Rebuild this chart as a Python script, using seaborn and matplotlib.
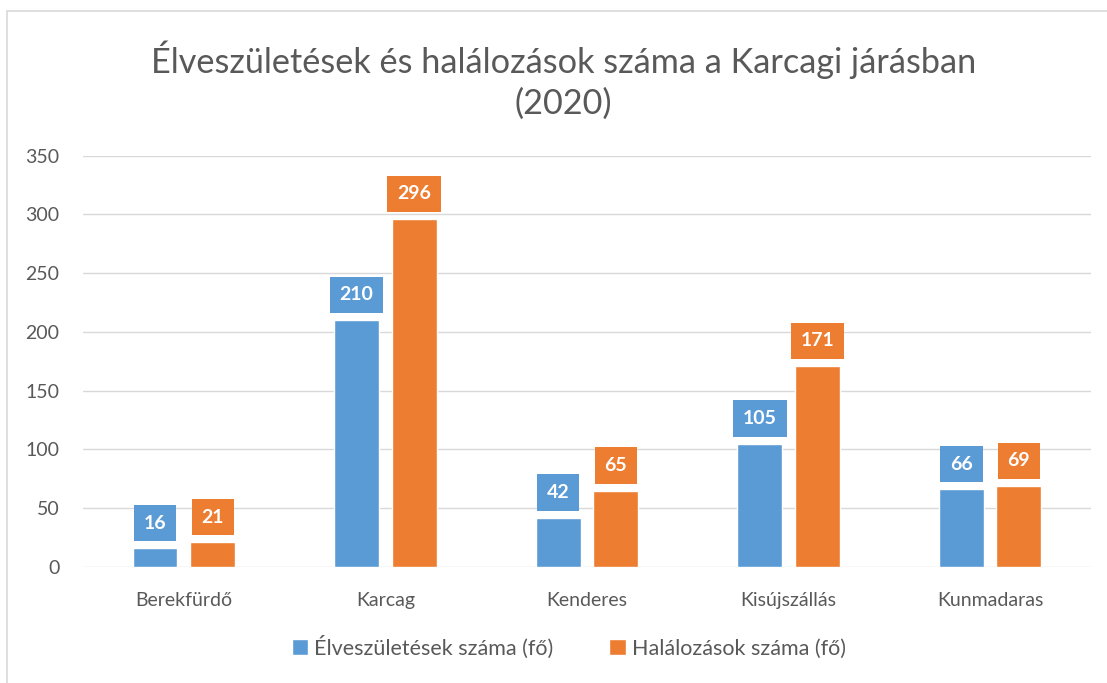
import pandas as pd
import seaborn as sns
import matplotlib.pyplot as plt
from matplotlib.patches import Rectangle

telepulesek = ['Berekfürdő', 'Karcag', 'Kenderes', 'Kisújszállás', 'Kunmadaras']
elveszuletesek = [16, 210, 42, 105, 66]
halalozasok = [21, 296, 65, 171, 69]
sorozatok = ['Élveszületések száma (fő)', 'Halálozások száma (fő)']
szinek = ['#5B9BD5', '#ED7D31']

df = pd.DataFrame({
    'telepules': telepulesek * 2,
    'sorozat': [sorozatok[0]] * 5 + [sorozatok[1]] * 5,
    'ertek': elveszuletesek + halalozasok,
})

sns.set_style('white')
plt.rcParams['font.family'] = ['Lato', 'DejaVu Sans']
szurke = '#595959'

fig = plt.figure(figsize=(11.07, 6.83), dpi=100)
ax = fig.add_axes([0.075, 0.1698, 0.9105, 0.6025])

sns.barplot(data=df, x='telepules', y='ertek', hue='sorozat', palette=szinek,
            width=0.57, gap=0.22, saturation=1, ax=ax, legend=True)

ax.set_ylim(0, 350)
ax.set_yticks(range(0, 351, 50))
ax.set_xlim(-0.5, 4.5)
ax.grid(axis='y', color='#D9D9D9', linewidth=1.0)
ax.set_axisbelow(True)
for s in ax.spines.values():
    s.set_visible(False)
ax.tick_params(axis='y', length=0, pad=17, labelsize=14, labelcolor=szurke)
ax.tick_params(axis='x', length=0, pad=18, labelsize=14, labelcolor=szurke)
ax.set_xlabel('')
ax.set_ylabel('')

# értékcímkék színes dobozban a oszlopok fölött
for cont, szin in zip(ax.containers, szinek):
    ax.bar_label(cont, padding=12, color='white', fontsize=14, fontweight='bold',
                 bbox=dict(boxstyle='square,pad=0.5', fc=szin, ec='none'))

fig.text(0.509, 1 - 80 / 683,
         'Élveszületések és halálozások száma a Karcagi járásban\n(2020)',
         ha='center', va='center', fontsize=24.7, color=szurke, linespacing=1.35)

ax.legend(loc='center', bbox_to_anchor=(0.482, -0.195), ncol=2, frameon=False,
          fontsize=15.5, handlelength=0.75, handleheight=0.75, handletextpad=0.3,
          columnspacing=2.6, labelcolor=szurke)

fig.patches.append(Rectangle((7 / 1107, -0.1), 1.2, 1 - 11 / 683 + 0.1,
                             transform=fig.transFigure, fill=False,
                             ec='#D9D9D9', lw=1.2))

fig.savefig('out.png', dpi=100)
